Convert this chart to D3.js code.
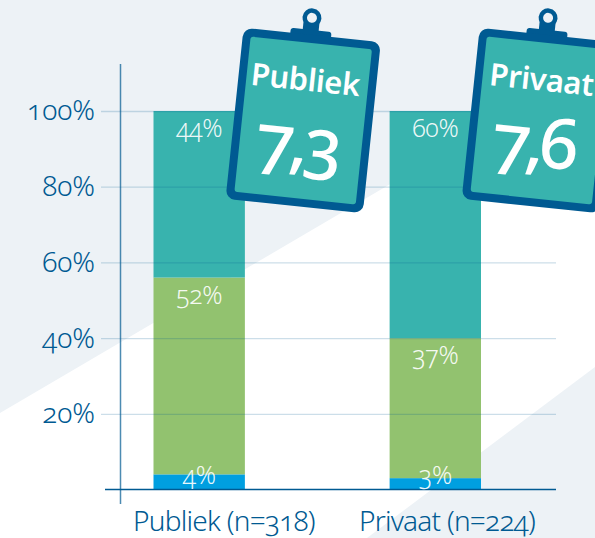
<!DOCTYPE html>
<html>
<head>
<meta charset="utf-8">
<script src="https://cdn.jsdelivr.net/npm/d3@7"></script>
<style>
html, body { margin: 0; padding: 0; background: #fff; overflow: hidden; }
text { font-family: "Noto Sans", "Open Sans", sans-serif; font-variant-numeric: oldstyle-nums; font-feature-settings: "onum" 1; }
</style>
</head>
<body>
<div id="viz"></div>
<script>
const width = 595, height = 538;

// chart data
const categories = ["Publiek", "Privaat"];
const categoryLabels = ["Publiek (n=318)", "Privaat (n=224)"];
const segments = ["blauw", "groen", "teal"];
const blauw = [4, 3];
const groen = [52, 37];
const teal = [44, 60];
const yTicks = [20, 40, 60, 80, 100];
const scores = ["7,3", "7,6"];

const colors = { blauw: "#009fe0", groen: "#92c26f", teal: "#38b3ae" };
const navy = "#005a92";
const pale = "#edf2f6";

const rows = categories.map((c, i) => ({ category: c, blauw: blauw[i], groen: groen[i], teal: teal[i] }));

const x = d3.scaleBand().domain(categories).range([153.5, 481]).paddingInner(0.613);
const xLabel = d3.scalePoint().domain(categoryLabels).range([224, 447]);
const y = d3.scaleLinear().domain([0, 100]).range([489.5, 111]);

const svg = d3.select("#viz").append("svg")
    .attr("width", width)
    .attr("height", height)
    .style("display", "block");

// background shapes
svg.append("rect").attr("width", width).attr("height", height).attr("fill", "#fff");
svg.append("path").attr("d", "M0,0H595V64L0,413Z").attr("fill", pale);
svg.append("path").attr("d", "M367,538L595,367V538Z").attr("fill", pale);

// stacked bars
const stack = d3.stack().keys(segments)(rows);
svg.append("g")
    .selectAll("g")
    .data(stack)
    .enter()
    .append("g")
    .attr("fill", d => colors[d.key])
    .selectAll("rect")
    .data(d => d)
    .enter()
    .append("rect")
        .attr("x", d => x(d.data.category))
        .attr("y", d => y(d[1]))
        .attr("width", x.bandwidth())
        .attr("height", d => y(d[0]) - y(d[1]));

// gridlines and tick labels
const yAxis = svg.append("g")
    .attr("transform", "translate(556,0)")
    .call(d3.axisLeft(y).tickValues(yTicks).tickSize(455).tickPadding(6).tickFormat(d => d + "%"));
yAxis.select(".domain").remove();
yAxis.selectAll("line").attr("stroke", navy).attr("stroke-opacity", 0.2).attr("stroke-width", 1.3);
yAxis.selectAll("text").attr("fill", navy).style("font-size", "28px").style("font-weight", 350).attr("dy", "0.32em");

// axis lines
svg.append("line").attr("x1", 120.5).attr("x2", 120.5).attr("y1", 64).attr("y2", 504)
    .attr("stroke", navy).attr("stroke-opacity", 0.7).attr("stroke-width", 1.5);
svg.append("line").attr("x1", 105).attr("x2", 556).attr("y1", y(0)).attr("y2", y(0))
    .attr("stroke", navy).attr("stroke-width", 1.3);

// bar value labels
stack.forEach(layer => {
    svg.append("g")
        .selectAll("text")
        .data(layer)
        .enter()
        .append("text")
            .attr("x", d => x(d.data.category) + x.bandwidth() / 2)
            .attr("y", d => layer.key === "blauw" ? y(0) - 6 : y(d[1]) + 26)
            .attr("text-anchor", "middle")
            .attr("fill", "#fff")
            .attr("fill-opacity", 0.92)
            .style("font-size", "25px")
            .style("font-weight", 300)
            .style("letter-spacing", "-0.4px")
            .text(d => d.data[layer.key] + "%");
});

// category labels
svg.append("g")
    .selectAll("text")
    .data(categoryLabels)
    .enter()
    .append("text")
        .attr("x", d => xLabel(d))
        .attr("y", 531)
        .attr("text-anchor", "middle")
        .attr("fill", navy)
        .style("font-size", "28px")
        .style("font-weight", 350)
        .style("letter-spacing", "-0.75px")
        .text(d => d);

// clipboards with the score
const boards = svg.append("g")
    .selectAll("g")
    .data(categories)
    .enter()
    .append("g")
    .attr("transform", d => `translate(${x(d) + x.bandwidth() / 2 + 104},120.5) rotate(6)`);

boards.append("circle").attr("cx", -2).attr("cy", -103).attr("r", 9.5).attr("fill", navy);
boards.append("rect").attr("x", -10).attr("y", -103).attr("width", 16).attr("height", 16).attr("fill", navy);
boards.append("circle").attr("cx", -2).attr("cy", -103).attr("r", 5).attr("fill", pale);
boards.append("rect").attr("x", -22).attr("y", -91).attr("width", 41).attr("height", 12).attr("rx", 3).attr("fill", navy);
boards.append("rect").attr("x", -69).attr("y", -86).attr("width", 138).attr("height", 172).attr("rx", 9).attr("fill", navy);
boards.append("rect").attr("x", -61).attr("y", -78).attr("width", 122).attr("height", 156).attr("rx", 3).attr("fill", colors.teal);
boards.append("text")
    .attr("x", -2)
    .attr("y", -30)
    .attr("text-anchor", "middle")
    .attr("fill", "#fff")
    .style("font-size", "31px")
    .style("font-weight", 600)
    .style("letter-spacing", "-0.4px")
    .text(d => d);
boards.append("text")
    .attr("x", -4)
    .attr("y", 46)
    .attr("text-anchor", "middle")
    .attr("fill", "#fff")
    .style("font-size", "70px")
    .style("font-weight", 500)
    .style("letter-spacing", "-5px")
    .text((d, i) => scores[i]);
</script>
</body>
</html>
